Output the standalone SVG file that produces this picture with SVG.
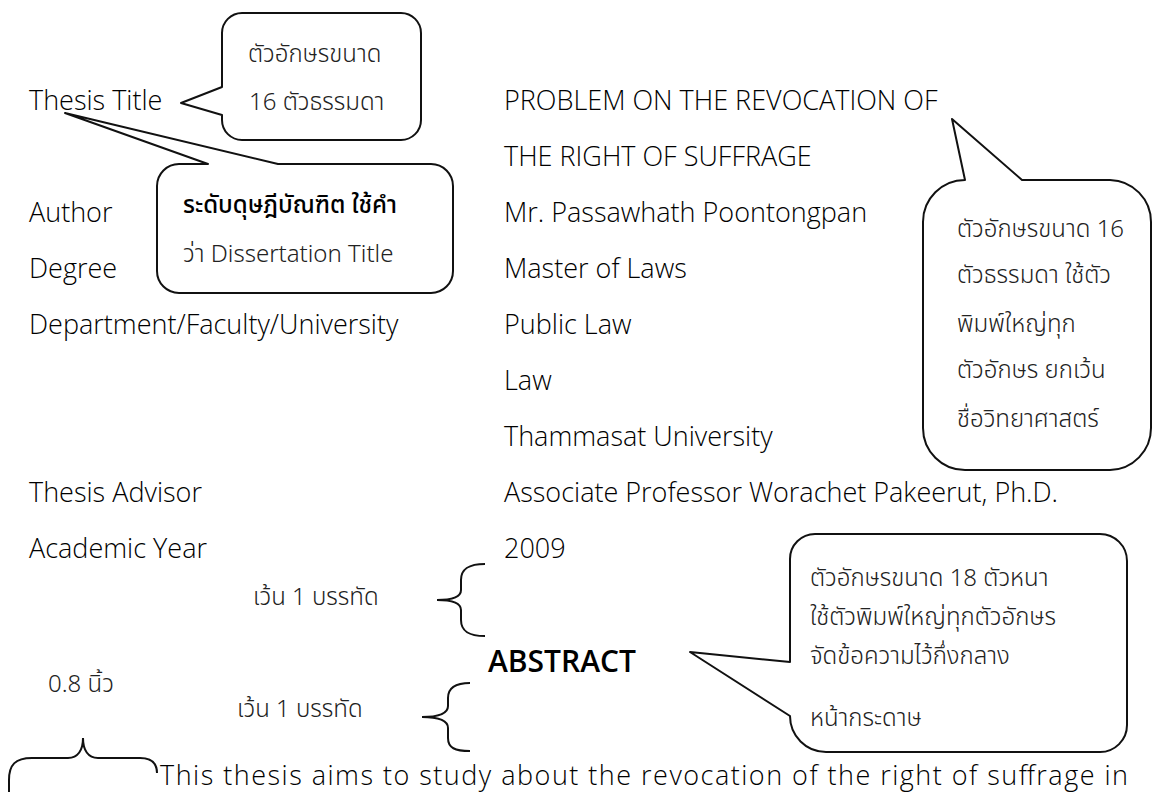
<svg xmlns="http://www.w3.org/2000/svg" width="1155" height="792" viewBox="0 0 1155 792">
<style>
.t{font-family:"Open Sans","Noto Sans","Noto Sans Thai",sans-serif;font-size:27px;font-weight:300;fill:#000}
.th{font-family:"Noto Sans Thai","Noto Sans","Open Sans",sans-serif;font-size:24px;font-weight:300;fill:#222}
.co{fill:#fff;stroke:#111;stroke-width:2;stroke-linejoin:round}
.br{fill:none;stroke:#111;stroke-width:2}
</style>
<rect width="1155" height="792" fill="#fff"/>
<g id="body">
<text class="t" x="29" y="110">Thesis Title</text>
<text class="t" x="29" y="222">Author</text>
<text class="t" x="29" y="278">Degree</text>
<text class="t" x="29" y="334">Department/Faculty/University</text>
<text class="t" x="29" y="502">Thesis Advisor</text>
<text class="t" x="29" y="558">Academic Year</text>
<text class="t" x="504" y="110">PROBLEM ON THE REVOCATION OF</text>
<text class="t" x="504" y="166">THE RIGHT OF SUFFRAGE</text>
<text class="t" x="504" y="222">Mr. Passawhath Poontongpan</text>
<text class="t" x="504" y="278">Master of Laws</text>
<text class="t" x="504" y="334">Public Law</text>
<text class="t" x="504" y="390">Law</text>
<text class="t" x="504" y="446">Thammasat University</text>
<text class="t" x="504" y="502">Associate Professor Worachet Pakeerut, Ph.D.</text>
<text class="t" x="504" y="558">2009</text>
<text class="t" x="488" y="672" style="font-weight:600;font-size:30px">ABSTRACT</text>
<text class="t" x="160" y="785" textLength="968" lengthAdjust="spacing">This thesis aims to study about the revocation of the right of suffrage in</text>
<text class="th" x="253" y="605">เว้น 1 บรรทัด</text>
<text class="th" x="237" y="717">เว้น 1 บรรทัด</text>
<text class="th" x="48" y="692">0.8 นิ้ว</text>
</g>
<g id="callout-title">
<path class="co" d="M242,13 H401 A20,20 0 0 1 421,33 V120 A20,20 0 0 1 401,140 H242 A20,20 0 0 1 222,120 V115 L181,103 L222,87 V33 A20,20 0 0 1 242,13 Z"/>
<text class="th" x="248" y="62">ตัวอักษรขนาด</text>
<text class="th" x="249" y="110">16 ตัวธรรมดา</text>
</g>
<g id="callout-dissertation">
<path class="co" d="M179,164 H208 L65,113 L278,164 H431 A22,22 0 0 1 453,186 V271 A22,22 0 0 1 431,293 H179 A22,22 0 0 1 157,271 V186 A22,22 0 0 1 179,164 Z"/>
<text class="th" x="183" y="213" style="font-weight:500;fill:#000">ระดับดุษฎีบัณฑิต ใช้คำ</text>
<text class="th" x="183" y="262">ว่า Dissertation Title</text>
</g>
<g id="callout-caps">
<path class="co" d="M965,180 L952,119 L1022,180 H1110 A42,42 0 0 1 1151,222 V428 A42,42 0 0 1 1110,470 H965 A42,42 0 0 1 923,428 V222 A42,42 0 0 1 965,180 Z"/>
<text class="th" x="957" y="237">ตัวอักษรขนาด 16</text>
<text class="th" x="957" y="283">ตัวธรรมดา ใช้ตัว</text>
<text class="th" x="957" y="332">พิมพ์ใหญ่ทุก</text>
<text class="th" x="957" y="378">ตัวอักษร ยกเว้น</text>
<text class="th" x="957" y="427">ชื่อวิทยาศาสตร์</text>
</g>
<g id="callout-abstract">
<path class="co" d="M815,534 H1100 A27,27 0 0 1 1127,561 V725 A27,27 0 0 1 1100,752 H826 A36,36 0 0 1 790,716 L690,652 L790,662 V559 A25,25 0 0 1 815,534 Z"/>
<text class="th" x="810" y="586">ตัวอักษรขนาด 18 ตัวหนา</text>
<text class="th" x="810" y="625">ใช้ตัวพิมพ์ใหญ่ทุกตัวอักษร</text>
<text class="th" x="810" y="664">จัดข้อความไว้กึ่งกลาง</text>
<text class="th" x="810" y="726">หน้ากระดาษ</text>
</g>
<g id="connectors">
<path class="br" d="M485,564 C470,564 461,568 461,580 V590 C461,597 452,600 437,600 C452,600 461,603 461,610 V620 C461,632 470,636 485,636"/>
<path class="br" d="M470,683 C455,683 448,688 448,698 V706 C448,713 440,717 422,717 C440,717 448,721 448,728 V738 C448,748 455,751 470,751"/>
<path class="br" d="M9,792 V780 C9,765 15,758 32,758 H68 C78,758 83,750 83,738 C83,750 88,758 98,758 H140 C152,758 157,764 157,773"/>
</g>
</svg>
